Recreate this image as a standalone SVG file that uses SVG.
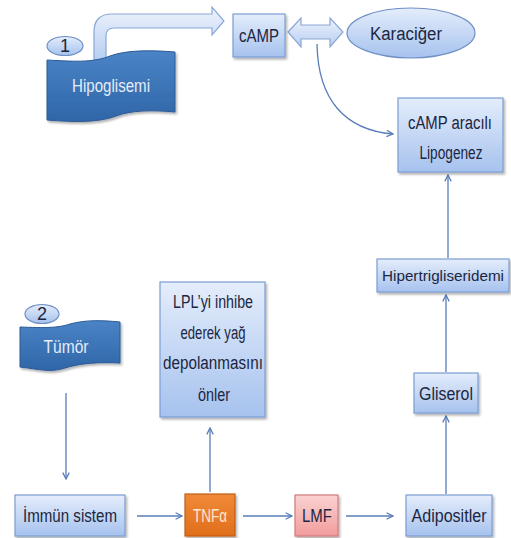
<svg xmlns="http://www.w3.org/2000/svg" width="511" height="538" viewBox="0 0 511 538">
<defs>
<linearGradient id="gBox" x1="0" y1="0" x2="0" y2="1">
<stop offset="0" stop-color="#e4edfb"/>
<stop offset="1" stop-color="#a6c2ee"/>
</linearGradient>
<linearGradient id="gFlag" x1="0" y1="0" x2="0" y2="1">
<stop offset="0" stop-color="#4a84c6"/>
<stop offset="1" stop-color="#2f66a8"/>
</linearGradient>
<linearGradient id="gLMF" x1="0" y1="0" x2="0" y2="1">
<stop offset="0" stop-color="#fbd2d2"/>
<stop offset="1" stop-color="#f39c9c"/>
</linearGradient>
<linearGradient id="gTNF" x1="0" y1="0" x2="0" y2="1">
<stop offset="0" stop-color="#f08a38"/>
<stop offset="1" stop-color="#e06f1c"/>
</linearGradient>
<linearGradient id="gArrow" x1="0" y1="0" x2="0" y2="1">
<stop offset="0" stop-color="#eef3fc"/>
<stop offset="1" stop-color="#b5cdf1"/>
</linearGradient>
<filter id="sh" x="-10%" y="-10%" width="130%" height="130%">
<feDropShadow dx="1.5" dy="2" stdDeviation="1.2" flood-color="#000" flood-opacity="0.3"/>
</filter>
<marker id="ah" viewBox="0 0 10 10" refX="9" refY="5" markerWidth="8" markerHeight="8" orient="auto" markerUnits="userSpaceOnUse">
<path d="M1,1 L9,5 L1,9" fill="none" stroke="#5a7cb8" stroke-width="1.6"/>
</marker>
<style>
.box{fill:url(#gBox);stroke:#7c9dd3;stroke-width:1.2;filter:url(#sh)}
.flag{fill:url(#gFlag);stroke:#2a5a96;stroke-width:1;filter:url(#sh)}
.oval{fill:url(#gBox);stroke:#6f8fc4;stroke-width:1.2}
.t{font-family:"Liberation Sans Narrow","Liberation Sans",Arial,sans-serif;font-size:18px;fill:#1c2640;text-anchor:middle}
.tw{fill:#e3ecf8}
.con{fill:none;stroke:#5a7cb8;stroke-width:1.3;marker-end:url(#ah)}
.big{fill:url(#gArrow);stroke:#8aa6d6;stroke-width:1.2}
</style>
</defs>
<rect width="511" height="538" fill="#ffffff"/>

<g id="connectors">
<path class="con" d="M317,44 C318,100 345,130 393,134"/>
<path class="con" d="M448,258 L448,175"/>
<path class="con" d="M446,372 L446,295"/>
<path class="con" d="M446,494 L446,416"/>
<path class="con" d="M66,393 L66,479"/>
<path class="con" d="M137,516 L182,516"/>
<path class="con" d="M243,516 L292,516"/>
<path class="con" d="M346,516 L393,516"/>
<path class="con" d="M210,492 L210,428"/>
</g>

<g id="bent-arrow">
<path class="big" d="M94,62 L94,32 Q94,14 112,14 L212,14 L212,7 L224,21 L212,35 L212,28 L114,28 Q106,28 106,36 L106,62 Z"/>
</g>

<g id="double-arrow">
<path class="big" d="M288,32 L301,18 L301,25 L330,25 L330,18 L343,32 L330,47 L330,39 L301,39 L301,47 Z"/>
</g>

<g id="hipoglisemi">
<path class="flag" d="M47,60 C78,62 95,62 110,56 C126,50 150,50 175,52 L175,112 C152,110 132,110 116,116 C98,123 72,122 47,120 Z"/>
<text class="t tw" x="111" y="92" textLength="78" lengthAdjust="spacingAndGlyphs">Hipoglisemi</text>
</g>

<g id="badge1">
<ellipse class="oval" cx="65" cy="46" rx="18" ry="9.5"/>
<text class="t" x="65" y="52">1</text>
</g>

<g id="camp">
<rect class="box" x="233" y="14" width="52" height="43"/>
<text class="t" x="259" y="42" textLength="40" lengthAdjust="spacingAndGlyphs">cAMP</text>
</g>

<g id="karaciger">
<ellipse class="oval" cx="411" cy="33" rx="64" ry="25"/>
<text class="t" x="406" y="40" textLength="72" lengthAdjust="spacingAndGlyphs">Karaciğer</text>
</g>

<g id="lipogenez">
<rect class="box" x="398" y="98" width="105" height="74"/>
<text class="t" x="450" y="129" textLength="84" lengthAdjust="spacingAndGlyphs">cAMP aracılı</text>
<text class="t" x="451" y="159" textLength="63" lengthAdjust="spacingAndGlyphs">Lipogenez</text>
</g>

<g id="hipertrigliseridemi">
<rect class="box" x="377" y="259" width="132" height="33"/>
<text class="t" x="443" y="281" font-size="15px" style="font-size:15px" textLength="122" lengthAdjust="spacingAndGlyphs">Hipertrigliseridemi</text>
</g>

<g id="gliserol">
<rect class="box" x="414" y="373" width="64" height="40"/>
<text class="t" x="446" y="400" textLength="54" lengthAdjust="spacingAndGlyphs">Gliserol</text>
</g>

<g id="adipositler">
<rect class="box" x="406" y="495" width="86" height="41"/>
<text class="t" x="449" y="522" textLength="75" lengthAdjust="spacingAndGlyphs">Adipositler</text>
</g>

<g id="lmf">
<rect x="295" y="495" width="43" height="41" fill="url(#gLMF)" stroke="#d27a7a" stroke-width="1.2" filter="url(#sh)"/>
<text class="t" x="317" y="522" textLength="30" lengthAdjust="spacingAndGlyphs">LMF</text>
</g>

<g id="tnfa">
<rect x="185" y="494" width="50" height="42" fill="url(#gTNF)" stroke="#c25e14" stroke-width="1.2" filter="url(#sh)"/>
<text class="t" x="210" y="522" style="fill:#fde6d2" textLength="34" lengthAdjust="spacingAndGlyphs">TNFα</text>
</g>

<g id="immun">
<rect class="box" x="15" y="495" width="110" height="41"/>
<text class="t" x="70" y="522" textLength="94" lengthAdjust="spacingAndGlyphs">İmmün sistem</text>
</g>

<g id="lpl">
<rect class="box" x="160" y="282" width="105" height="135"/>
<text class="t" x="213" y="308" textLength="80" lengthAdjust="spacingAndGlyphs">LPL’yi inhibe</text>
<text class="t" x="213" y="339" textLength="65" lengthAdjust="spacingAndGlyphs">ederek yağ</text>
<text class="t" x="213" y="369" textLength="100" lengthAdjust="spacingAndGlyphs">depolanmasını</text>
<text class="t" x="214" y="401" textLength="32" lengthAdjust="spacingAndGlyphs">önler</text>
</g>

<g id="tumor">
<path class="flag" d="M20,327 C45,328 58,328 70,324 C85,320 100,320 120,322 L120,363 C100,362 80,363 65,368 C50,373 38,369 20,367 Z"/>
<text class="t tw" x="66" y="353" textLength="45" lengthAdjust="spacingAndGlyphs">Tümör</text>
</g>

<g id="badge2">
<ellipse class="oval" cx="42" cy="314" rx="17" ry="9.5"/>
<text class="t" x="42" y="320">2</text>
</g>
</svg>
